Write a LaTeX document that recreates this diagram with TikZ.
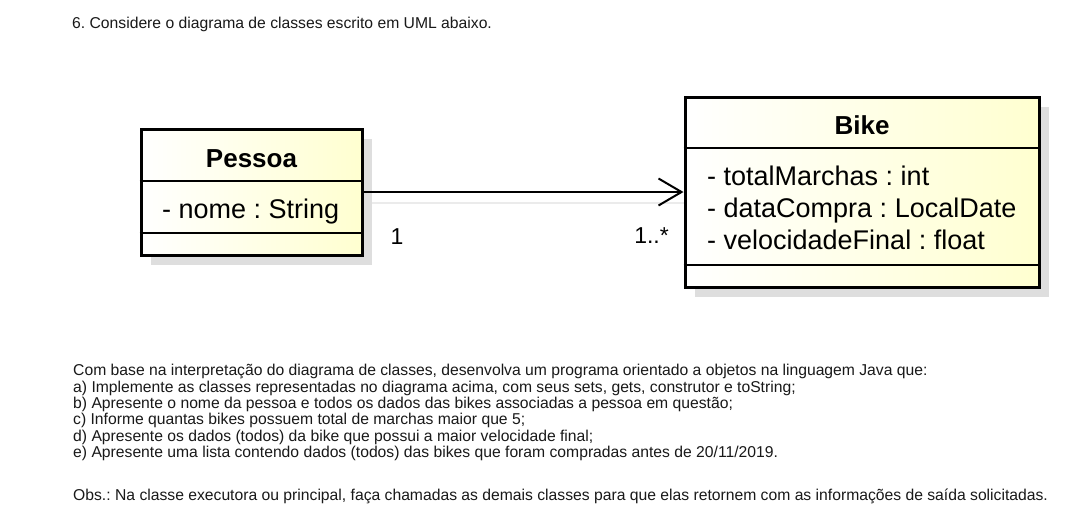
\documentclass[tikz,border=0pt]{standalone}
\usepackage{fontspec}
\setmainfont{Liberation Sans}
\usetikzlibrary{arrows.meta}
\frenchspacing
\definecolor{classfill}{RGB}{255,255,208}
\definecolor{shadowgray}{RGB}{222,222,222}
\tikzset{
  classbox/.style={draw=black, line width=3pt, left color=white, right color=classfill, inner sep=0pt},
  divider/.style={line width=2pt},
  classtitle/.style={font=\fontsize{26}{28}\selectfont\bfseries, inner sep=0pt, anchor=base},
  attr/.style={font=\fontsize{27}{29}\selectfont, inner sep=0pt, anchor=base west},
  mult/.style={font=\fontsize{23}{25}\selectfont, inner sep=0pt, anchor=base},
  assoc/.style={line width=2pt, -{Straight Barb[length=23pt, width=27pt, line width=2pt]}},
  assocshadow/.style={line width=2pt, draw=black!8},
  body/.style={font=\fontsize{15.7}{17}\selectfont, inner sep=0pt, anchor=base west, text=black!90}
}
\begin{document}
\begin{tikzpicture}[x=1pt, y=-1pt]
\useasboundingbox[fill=white] (0,0) rectangle (1076,520);
% title
\node[body] (title) at (72,28) {6. Considere o diagrama de classes escrito em UML abaixo.};
% shadows
\fill[shadowgray] (151,139) rectangle (372,265);
\fill[shadowgray] (695,107) rectangle (1049,297);
% association shadow
\coordinate (ls) at (372,203);
\coordinate (le) at (697,203);
\draw[assocshadow] (ls) -- (le);
% classes
\node[classbox, minimum width=221pt, minimum height=126pt] (pessoa) at (251.5,192) {};
\node[classbox, minimum width=354pt, minimum height=190pt] (bike) at (862,192) {};
\draw[divider] (pessoa.west |- 0,181) -- (pessoa.east |- 0,181);
\draw[divider] (pessoa.west |- 0,233) -- (pessoa.east |- 0,233);
\draw[divider] (bike.west |- 0,148) -- (bike.east |- 0,148);
\draw[divider] (bike.west |- 0,265) -- (bike.east |- 0,265);
\node[classtitle] (pessoaname) at (251.5,167) {Pessoa};
\node[attr] (pessoaattr) at (162,218) {- nome : String};
\node[classtitle] (bikename) at (862,134) {Bike};
\node[attr] (bikeattr1) at (707,185) {- totalMarchas : int};
\node[attr] (bikeattr2) at (707,217) {- dataCompra : LocalDate};
\node[attr] (bikeattr3) at (707,249) {- velocidadeFinal : float};
% association
\draw[assoc] (pessoa.east) -- (bike.west);
\node[mult] (m1) at (397,244) {1};
\node[mult, anchor=base east] (m2) at (669,243) {1..*};
% body text
\node[body] (l1) at (73,375.7) {Com base na interpretação do diagrama de classes, desenvolva um programa orientado a objetos na linguagem Java que:};
\node[body] (l2) at (73,392) {a) Implemente as classes representadas no diagrama acima, com seus sets, gets, construtor e toString;};
\node[body] (l3) at (73,408.3) {b) Apresente o nome da pessoa e todos os dados das bikes associadas a pessoa em questão;};
\node[body] (l4) at (73,424.6) {c) Informe quantas bikes possuem total de marchas maior que 5;};
\node[body] (l5) at (73,441) {d) Apresente os dados (todos) da bike que possui a maior velocidade final;};
\node[body] (l6) at (73,457.3) {e) Apresente uma lista contendo dados (todos) das bikes que foram compradas antes de 20/11/2019.};
\node[body] (l7) at (73,500) {Obs.: Na classe executora ou principal, faça chamadas as demais classes para que elas retornem com as informações de saída solicitadas.};
\end{tikzpicture}
\end{document}
